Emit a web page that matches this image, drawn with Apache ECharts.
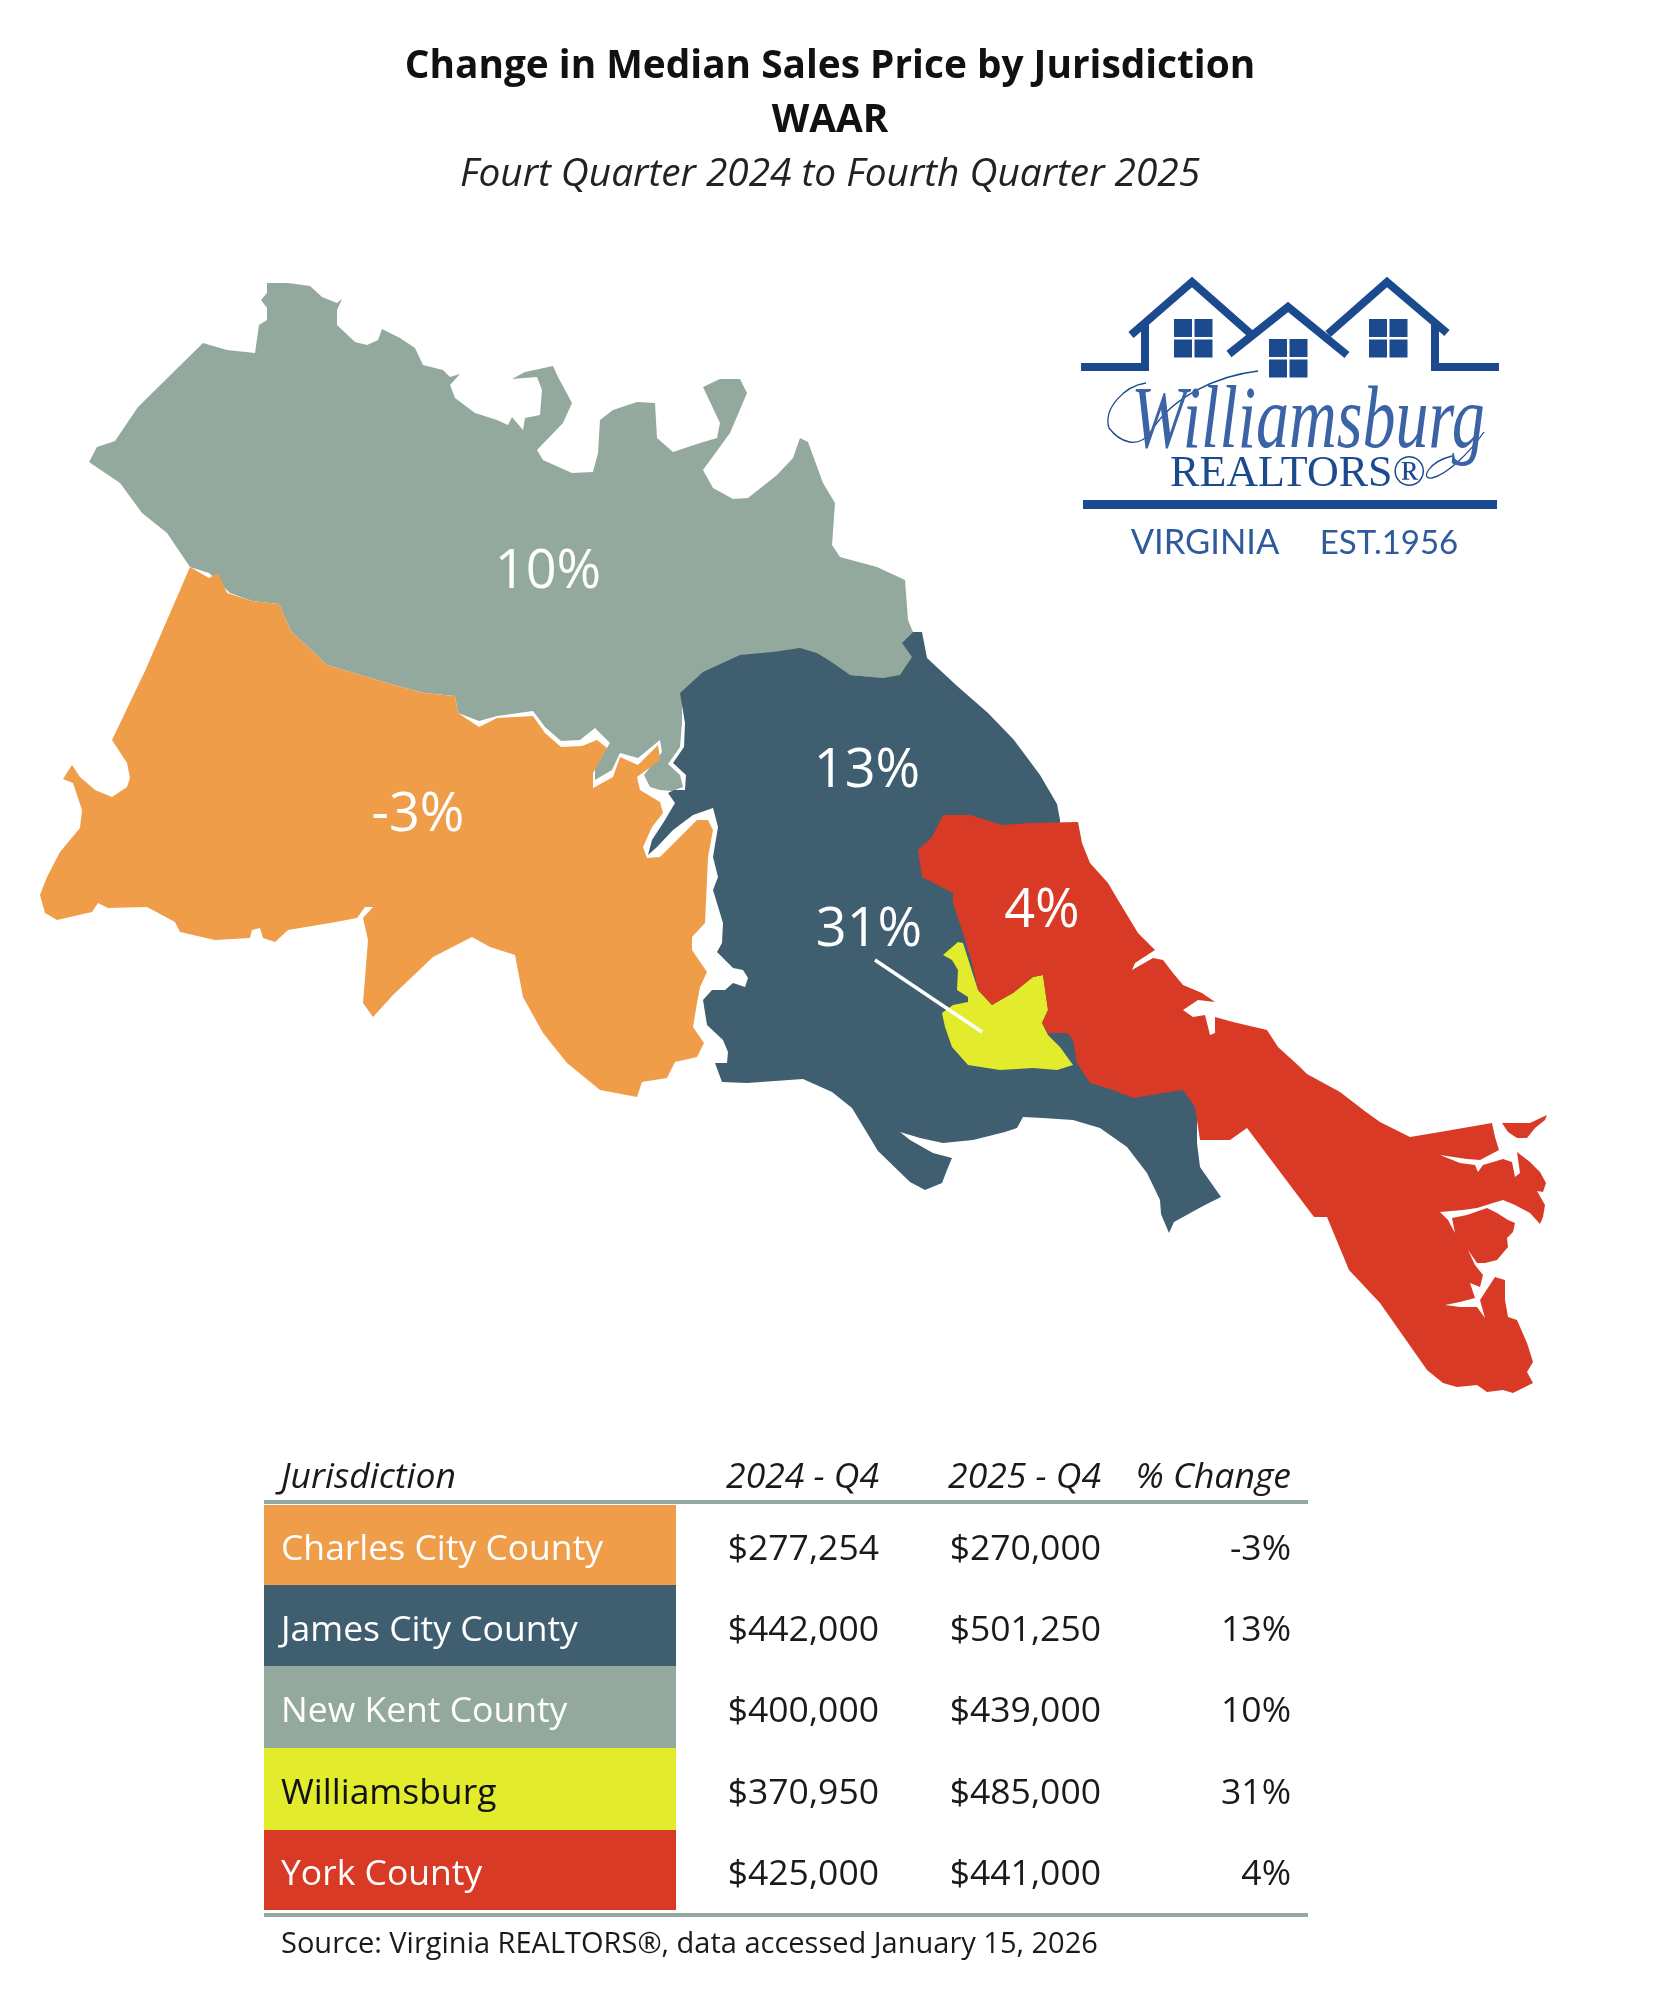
<!DOCTYPE html>
<html>
<head>
<meta charset="utf-8">
<title>Change in Median Sales Price by Jurisdiction</title>
<script src="https://cdn.jsdelivr.net/npm/echarts@6/dist/echarts.min.js"></script>
<style>
  html, body { margin: 0; padding: 0; background: #fff; }
  #main { width: 1670px; height: 2000px; }
</style>
</head>
<body>
<div id="main"></div>
<script>
// table values
const jurisdictions = ['Charles City County', 'James City County', 'New Kent County', 'Williamsburg', 'York County'];
const q4_2024 = ['$277,254', '$442,000', '$400,000', '$370,950', '$425,000'];
const q4_2025 = ['$270,000', '$501,250', '$439,000', '$485,000', '$441,000'];
const pctChange = [-3, 13, 10, 31, 4];
const columnHeads = ['Jurisdiction', '2024 - Q4', '2025 - Q4', '% Change'];
const regionColors = ['#F09D4A', '#3F5E70', '#93A99E', '#E2EC2D', '#D93A26'];
const regionTextColors = ['#fff', '#fff', '#fff', '#111', '#fff'];

// map outlines, in picture units
const newKentOutline = [[89,462],[97,447],[115,441],[138,407],[203,343],[227,350],[255,353],[259,325],[267,320],[267,308],[261,300],[267,293],[267,283],[288,283],[310,286],[322,297],[337,303],[342,299],[337,310],[337,325],[355,342],[367,345],[378,340],[382,329],[400,338],[415,348],[423,365],[443,370],[450,377],[460,374],[450,385],[455,398],[475,413],[497,420],[508,425],[512,417],[517,423],[523,430],[525,418],[540,415],[542,390],[537,377],[512,379],[525,372],[553,366],[558,377],[572,403],[563,423],[537,450],[543,460],[572,473],[593,472],[598,453],[600,420],[613,410],[637,402],[655,403],[657,438],[673,452],[700,443],[717,438],[720,423],[703,387],[720,379],[740,379],[747,393],[730,433],[703,470],[713,488],[733,499],[748,498],[777,475],[793,458],[800,438],[808,442],[823,483],[835,503],[832,545],[840,557],[877,567],[905,580],[908,620],[913,632],[915,660],[900,680],[800,670],[700,690],[682,699],[682,723],[680,747],[668,764],[680,775],[683,787],[672,791],[660,790],[650,787],[644,775],[662,752],[660,740],[638,758],[620,753],[612,770],[595,780],[595,767],[610,743],[595,728],[580,740],[561,741],[545,727],[533,711],[497,716],[479,721],[458,713],[455,696],[424,693],[394,685],[327,665],[291,631],[279,604],[252,601],[230,593],[209,573],[190,567],[167,533],[142,513],[120,483]];
const charlesCityOutline = [[190,567],[209,578],[218,573],[227,593],[252,601],[279,604],[291,631],[327,665],[394,685],[424,693],[455,696],[458,713],[479,727],[497,718],[533,716],[545,733],[561,747],[582,746],[597,740],[607,748],[593,773],[593,788],[613,777],[620,757],[638,765],[658,745],[660,760],[637,777],[640,790],[660,802],[663,813],[652,827],[643,847],[647,858],[660,857],[677,840],[697,820],[708,820],[713,830],[708,857],[707,880],[705,923],[692,937],[692,950],[707,972],[700,987],[697,1003],[693,1027],[704,1043],[697,1057],[675,1062],[667,1078],[642,1082],[637,1097],[600,1090],[567,1063],[543,1033],[523,997],[515,955],[490,947],[472,937],[433,957],[393,995],[373,1017],[363,1003],[368,940],[363,918],[373,907],[365,907],[357,918],[330,923],[288,930],[275,942],[263,938],[260,928],[252,930],[250,938],[215,940],[180,932],[175,922],[147,907],[108,908],[98,903],[92,912],[57,920],[45,913],[40,895],[47,877],[60,852],[80,828],[82,810],[73,783],[63,779],[72,765],[80,777],[95,790],[112,797],[127,787],[130,778],[127,763],[112,740],[145,671]];
const jamesCityOutline = [[922,632],[927,658],[956,685],[988,713],[1014,740],[1040,775],[1057,804],[1060,820],[1060,850],[1000,900],[1150,1060],[1197,1100],[1197,1143],[1200,1167],[1221,1197],[1203,1206],[1174,1222],[1169,1233],[1161,1214],[1160,1200],[1147,1173],[1127,1147],[1100,1128],[1073,1120],[1043,1118],[1023,1117],[1017,1128],[1005,1132],[973,1140],[943,1143],[920,1138],[900,1132],[910,1140],[933,1153],[952,1158],[947,1170],[942,1183],[925,1190],[910,1182],[878,1151],[852,1108],[832,1092],[803,1079],[747,1083],[722,1082],[715,1063],[727,1063],[728,1052],[723,1040],[707,1025],[703,1000],[712,990],[725,990],[733,983],[745,987],[748,978],[743,970],[733,968],[717,952],[722,943],[723,923],[713,890],[718,877],[713,857],[718,827],[713,808],[693,815],[673,830],[657,847],[648,855],[652,840],[665,820],[675,803],[668,793],[674,790],[685,790],[686,775],[673,763],[684,747],[685,723],[680,693],[703,672],[740,655],[773,652],[800,648],[817,653],[833,663],[850,675],[883,678],[900,675],[912,657],[902,643],[913,632]];
const williamsburgOutline = [[958,942],[943,955],[952,960],[958,970],[957,990],[968,997],[968,1002],[953,1005],[942,1013],[945,1027],[952,1047],[968,1065],[1000,1070],[1033,1068],[1057,1070],[1073,1065],[1060,1047],[1048,1035],[1042,1023],[1048,1010],[1043,975],[1033,977],[1013,993],[997,1002],[992,1005],[978,990],[963,943]];
const yorkOutline = [[943,815],[970,815],[1002,825],[1030,823],[1078,822],[1082,843],[1090,863],[1108,883],[1118,900],[1138,933],[1155,950],[1135,963],[1132,970],[1153,958],[1163,960],[1173,973],[1183,985],[1202,993],[1215,1002],[1198,1000],[1183,1010],[1193,1017],[1205,1015],[1210,1035],[1215,1033],[1215,1017],[1233,1022],[1267,1030],[1278,1047],[1300,1067],[1307,1074],[1340,1092],[1366,1112],[1380,1122],[1410,1137],[1440,1132],[1492,1123],[1495,1137],[1499,1150],[1480,1160],[1467,1159],[1440,1155],[1460,1163],[1475,1165],[1478,1172],[1483,1165],[1503,1159],[1512,1162],[1515,1177],[1520,1173],[1517,1152],[1530,1162],[1540,1172],[1546,1183],[1543,1192],[1537,1191],[1545,1205],[1543,1217],[1540,1224],[1530,1213],[1515,1205],[1503,1200],[1493,1203],[1477,1208],[1463,1210],[1440,1212],[1448,1220],[1455,1233],[1452,1218],[1467,1215],[1487,1208],[1497,1213],[1508,1220],[1515,1223],[1513,1232],[1507,1238],[1508,1247],[1497,1260],[1485,1263],[1477,1263],[1468,1250],[1475,1265],[1483,1275],[1480,1287],[1470,1283],[1475,1298],[1460,1302],[1445,1305],[1460,1307],[1477,1307],[1485,1318],[1480,1300],[1495,1277],[1505,1280],[1505,1300],[1508,1317],[1517,1320],[1527,1343],[1533,1362],[1527,1372],[1533,1383],[1513,1393],[1503,1390],[1487,1392],[1477,1385],[1457,1387],[1443,1383],[1427,1370],[1413,1350],[1380,1303],[1349,1270],[1327,1217],[1314,1217],[1247,1128],[1230,1140],[1200,1140],[1195,1107],[1183,1090],[1170,1092],[1133,1098],[1113,1090],[1090,1083],[1077,1063],[1073,1040],[1067,1033],[1048,1033],[1042,1023],[1048,1010],[1043,975],[1033,977],[1013,993],[997,1002],[992,1005],[978,990],[972,963],[963,933],[953,903],[953,893],[922,877],[918,850],[932,837]];
const yorkIslet = [[1502,1123],[1520,1123],[1530,1123],[1547,1115],[1545,1120],[1535,1128],[1527,1138],[1517,1138],[1508,1132]];

// where each percentage sits on the map, same order as jurisdictions
const labelPoints = [[418,816],[867,772],[548,573],[869,931],[1042,912]];
const williamsburgLeader = [[875,960],[982,1032]];

const toGeo = p => [p[0], -p[1]];
const ring = pts => {
  const r = pts.map(toGeo);
  r.push(r[0]);
  return r;
};
const feature = (name, rings) => ({
  type: 'Feature',
  properties: { name },
  geometry: { type: 'MultiPolygon', coordinates: rings.map(r => [ring(r)]) }
});

// order matters, later regions are painted on top
echarts.registerMap('waar', {
  type: 'FeatureCollection',
  features: [
    feature('New Kent County', [newKentOutline]),
    feature('Charles City County', [charlesCityOutline]),
    feature('James City County', [jamesCityOutline]),
    feature('Williamsburg', [williamsburgOutline]),
    feature('York County', [yorkOutline, yorkIslet])
  ]
});

const FONT = '"Open Sans", sans-serif';
const logoBlue = '#1C4A8F';

// table drawn as graphic elements from the arrays above
const rowTops = [1505, 1585, 1666, 1748, 1830, 1910];
const colRight = [879, 1101, 1291];
const tableText = (text, x, y, align, fill, font) => ({
  type: 'text', silent: true,
  style: { text, x, y, align, verticalAlign: 'middle', textAlign: align, textVerticalAlign: 'middle', fill, font }
});
const tableFont = '35.5px ' + FONT;
const headFont = 'italic 35.5px ' + FONT;

const tableGraphics = [];
columnHeads.forEach((h, i) => {
  if (i === 0) tableGraphics.push(tableText(h, 281, 1478, 'left', '#1a1a1a', headFont));
  else tableGraphics.push(tableText(h, colRight[i - 1], 1478, 'right', '#1a1a1a', headFont));
});
tableGraphics.push({ type: 'rect', silent: true, shape: { x: 264, y: 1500, width: 1044, height: 4 }, style: { fill: '#93A99E' } });
tableGraphics.push({ type: 'rect', silent: true, shape: { x: 264, y: 1913, width: 1044, height: 4 }, style: { fill: '#93A99E' } });
jurisdictions.forEach((name, i) => {
  const y = (rowTops[i] + rowTops[i + 1]) / 2 + 5;
  tableGraphics.push({ type: 'rect', silent: true, shape: { x: 264, y: rowTops[i], width: 412, height: rowTops[i + 1] - rowTops[i] }, style: { fill: regionColors[i] } });
  tableGraphics.push(tableText(name, 281, y, 'left', regionTextColors[i], tableFont));
  tableGraphics.push(tableText(q4_2024[i], colRight[0], y, 'right', '#1a1a1a', tableFont));
  tableGraphics.push(tableText(q4_2025[i], colRight[1], y, 'right', '#1a1a1a', tableFont));
  tableGraphics.push(tableText(pctChange[i] + '%', colRight[2], y, 'right', '#1a1a1a', tableFont));
});
tableGraphics.push(tableText('Source: Virginia REALTORS®, data accessed January 15, 2026', 281, 1945, 'left', '#1a1a1a', '29px ' + FONT));

// Williamsburg Realtors logo
const roof = points => ({ type: 'polyline', silent: true, shape: { points }, style: { stroke: logoBlue, lineWidth: 8, fill: null } });
const windowPanes = (x, y) => {
  const out = [];
  [0, 20.5].forEach(dx => [0, 20.5].forEach(dy => {
    out.push({ type: 'rect', silent: true, shape: { x: x + dx, y: y + dy, width: 18, height: 18 }, style: { fill: logoBlue } });
  }));
  return out;
};
const swirl = (x1, y1, cpx1, cpy1, cpx2, cpy2, x2, y2) => ({
  type: 'bezierCurve', silent: true,
  shape: { x1, y1, cpx1, cpy1, cpx2, cpy2, x2, y2 },
  style: { stroke: logoBlue, lineWidth: 1.3, fill: null }
});
const logoGraphics = [
  roof([[1131,335],[1192,282],[1252,335]]),
  roof([[1229,354],[1288,307],[1347,355]]),
  roof([[1328,334],[1387,282],[1447,333]]),
  roof([[1081,367],[1145,367],[1145,322]]),
  roof([[1435,322],[1435,367],[1499,367]]),
  ...windowPanes(1174, 319),
  ...windowPanes(1269, 339),
  ...windowPanes(1369, 319),
  { type: 'rect', silent: true, shape: { x: 1083, y: 500, width: 414, height: 9 }, style: { fill: logoBlue } },
  swirl(1258, 371, 1215, 376, 1172, 398, 1152, 430),
  swirl(1152, 430, 1138, 452, 1118, 440, 1109, 428),
  swirl(1109, 428, 1103, 408, 1125, 386, 1146, 383),
  swirl(1484, 432, 1470, 452, 1448, 474, 1432, 478),
  swirl(1432, 478, 1420, 480, 1428, 462, 1452, 456),
  { type: 'text', silent: true, x: 1308, y: 424, scaleY: 1.35, style: { text: 'Williamsburg', x: 0, y: 0, align: 'center', verticalAlign: 'middle', textAlign: 'center', textVerticalAlign: 'middle', fill: '#3A64A6', font: 'italic 66px "Liberation Serif", serif' } },
  { type: 'text', silent: true, style: { text: 'REALTORS®', x: 1298, y: 474, align: 'center', verticalAlign: 'middle', textAlign: 'center', textVerticalAlign: 'middle', fill: logoBlue, font: '44px "Liberation Serif", serif' } },
  { type: 'text', silent: true, style: { text: 'VIRGINIA', x: 1205, y: 543, align: 'center', verticalAlign: 'middle', textAlign: 'center', textVerticalAlign: 'middle', fill: '#2F5A9C', font: '34.5px Lato, sans-serif' } },
  { type: 'text', silent: true, style: { text: 'EST.1956', x: 1389, y: 543, align: 'center', verticalAlign: 'middle', textAlign: 'center', textVerticalAlign: 'middle', fill: '#2F5A9C', font: '33px Lato, sans-serif' } }
];

const titleBase = { left: 825, textAlign: 'center', textVerticalAlign: 'middle' };

const option = {
  animation: false,
  backgroundColor: '#fff',
  title: [
    { ...titleBase, text: 'Change in Median Sales Price by Jurisdiction', top: 62, textStyle: { fontFamily: FONT, fontWeight: 'bold', fontSize: 38.8, color: '#111' } },
    { ...titleBase, text: 'WAAR', top: 115.5, textStyle: { fontFamily: FONT, fontWeight: 'bold', fontSize: 38.8, color: '#111' } },
    { ...titleBase, text: 'Fourt Quarter 2024 to Fourth Quarter 2025', top: 169.5, textStyle: { fontFamily: FONT, fontStyle: 'italic', fontWeight: 'normal', fontSize: 38.8, color: '#222' } }
  ],
  geo: {
    map: 'waar',
    roam: false,
    silent: true,
    aspectScale: 1,
    boundingCoords: [[0, 0], [1670, -2000]],
    left: 0,
    top: 0,
    width: 1670,
    height: 2000,
    label: { show: false },
    itemStyle: { borderWidth: 0 },
    regions: jurisdictions.map((name, i) => ({ name, itemStyle: { areaColor: regionColors[i], borderWidth: 0 } }))
  },
  series: [
    {
      type: 'lines',
      coordinateSystem: 'geo',
      silent: true,
      lineStyle: { color: '#fff', width: 3.5, opacity: 1, curveness: 0 },
      data: [{ coords: williamsburgLeader.map(toGeo) }]
    },
    {
      type: 'scatter',
      coordinateSystem: 'geo',
      silent: true,
      symbolSize: 0,
      itemStyle: { opacity: 1 },
      label: {
        show: true,
        position: 'inside',
        formatter: p => p.value[2] + '%',
        fontFamily: FONT,
        fontSize: 54,
        color: '#fff',
        opacity: 1
      },
      data: jurisdictions.map((name, i) => ({ name, value: [...toGeo(labelPoints[i]), pctChange[i]] }))
    }
  ],
  graphic: { elements: [...logoGraphics, ...tableGraphics] }
};

var myChart = echarts.init(document.getElementById('main'), null, { renderer: 'canvas' });
myChart.setOption(option);
</script>
</body>
</html>
